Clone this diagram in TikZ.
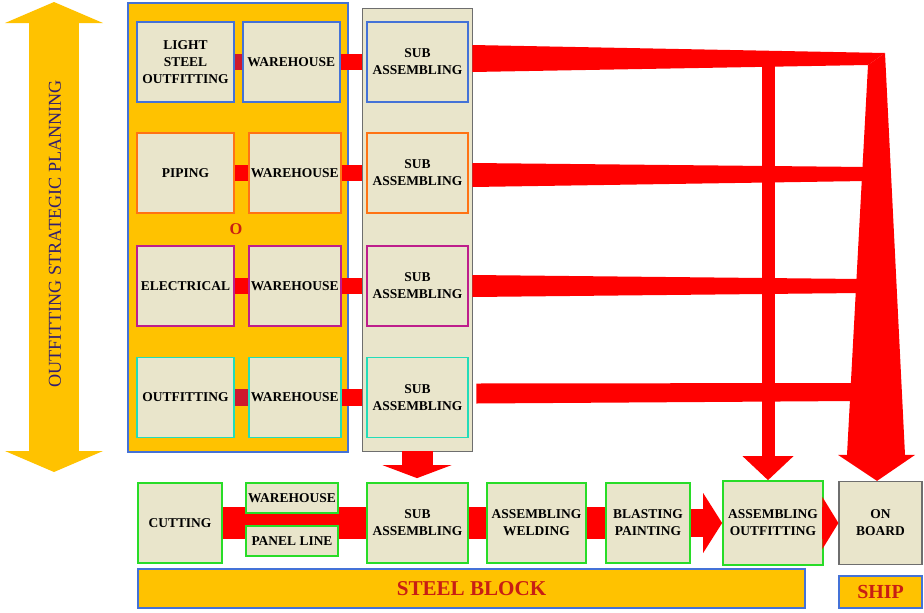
\documentclass[tikz,border=0pt]{standalone}
\usepackage{fontspec}
\setmainfont{Liberation Serif}
\usetikzlibrary{positioning,calc,arrows.meta}
\definecolor{planyellow}{RGB}{255,194,0}
\definecolor{plantext}{RGB}{50,30,110}
\definecolor{stagefill}{RGB}{233,229,203}
\definecolor{blueline}{RGB}{68,114,215}
\definecolor{orangeline}{RGB}{255,115,20}
\definecolor{magline}{RGB}{190,30,140}
\definecolor{cyanline}{RGB}{35,220,185}
\definecolor{greenline}{RGB}{40,220,40}
\definecolor{greyline}{RGB}{110,110,110}
\definecolor{flowred}{RGB}{255,0,0}
\definecolor{darkflow}{RGB}{205,25,45}
\definecolor{labelred}{RGB}{200,30,20}

\begin{document}
\begin{tikzpicture}[
    x=0.03cm, y=-0.03cm,
    stage/.style={rectangle, draw=#1, line width=1.5pt, fill=stagefill, minimum width=2.91cm, minimum height=2.4cm, inner sep=1pt, align=center, font=\fontsize{11.5}{14.5}\selectfont\bfseries},
    stage/.default=greenline,
    group/.style={rectangle, draw=blueline, fill=planyellow, line width=1pt},
    link/.style={draw=flowred, line width=0.5cm},
    band/.style={draw=flowred, line width=0.97cm},
    flow/.style={fill=flowred},
    plan/.style={draw=planyellow, line width=1.5cm, {Triangle[width=2.94cm, length=0.63cm, line width=0pt]}-{Triangle[width=2.94cm, length=0.63cm, line width=0pt]}}
]
\useasboundingbox (0,0) rectangle (924,612);

% planning arrow
\coordinate (ptop) at (54,2);
\coordinate (pbot) at (54,472);
\draw[plan] (ptop) -- (pbot);
\node[rotate=90, text=plantext, font=\fontsize{15.5}{18}\selectfont] (plan) at (55,234) {OUTFITTING STRATEGIC PLANNING};

% outfitting group and sub assembling column
\node[group, minimum width=6.6cm, minimum height=13.47cm] (ogrp) at (238,227.5) {};
\node[rectangle, draw=greyline, fill=stagefill, line width=0.6pt, minimum width=3.3cm, minimum height=13.29cm] (col) at (417,229.5) {};

\node[stage=blueline] (ls) at (185.5,62) {LIGHT\\STEEL\\OUTFITTING};
\node[stage=blueline, right=0.21cm of ls] (wh1) {WAREHOUSE};
\node[stage=blueline, minimum width=3.03cm] (sa1) at (417.5,62) {SUB\\ASSEMBLING};

\node[stage=orangeline] (pip) at (185.5,173) {PIPING};
\node[stage=orangeline, minimum width=2.76cm, right=0.39cm of pip] (wh2) {WAREHOUSE};
\node[stage=orangeline, minimum width=3.03cm] (sa2) at (417.5,173) {SUB\\ASSEMBLING};

\node[stage=magline] (ele) at (185.5,286) {ELECTRICAL};
\node[stage=magline, minimum width=2.76cm, right=0.39cm of ele] (wh3) {WAREHOUSE};
\node[stage=magline, minimum width=3.03cm] (sa3) at (417.5,286) {SUB\\ASSEMBLING};

\node[stage=cyanline] (out) at (185.5,397.5) {OUTFITTING};
\node[stage=cyanline, minimum width=2.76cm, right=0.39cm of out] (wh4) {WAREHOUSE};
\node[stage=cyanline, minimum width=3.03cm] (sa4) at (417.5,397.5) {SUB\\ASSEMBLING};

\node[text=labelred, font=\fontsize{14}{14}\selectfont\bfseries] (olabel) at (236,229) {O};

\draw[link, draw=darkflow] (ls) -- (wh1);
\draw[link] (pip) -- (wh2);
\draw[link] (ele) -- (wh3);
\draw[link, draw=darkflow] (out) -- (wh4);
\draw[link] (wh1) -- (wh1 -| col.west);
\draw[link] (wh2) -- (wh2 -| col.west);
\draw[link] (wh3) -- (wh3 -| col.west);
\draw[link] (wh4) -- (wh4 -| col.west);

% bottom row
\node[stage, minimum width=2.52cm] (cut) at (180,523) {CUTTING};
\node[stage, minimum width=3.03cm] (bsub) at (417.5,523) {SUB\\ASSEMBLING};
\draw[band] (cut) -- (bsub);
\node[stage, minimum width=2.76cm, minimum height=0.9cm] (bwh) at (292,498) {WAREHOUSE};
\node[stage, minimum width=2.76cm, minimum height=0.9cm] (pl) at (292,541) {PANEL LINE};
\node[stage, minimum width=2.97cm] (aw) at (536.5,523) {ASSEMBLING\\WELDING};
\node[stage, minimum width=2.52cm] (bp) at (648,523) {BLASTING\\PAINTING};
\node[stage, minimum width=3cm, minimum height=2.52cm] (ao) at (773,523) {ASSEMBLING\\OUTFITTING};
\node[stage=greyline, line width=1pt, minimum width=2.49cm, minimum height=2.49cm] (ob) at (880.5,523) {ON\\BOARD};

\draw[band] (bsub) -- (aw);
\draw[band] (aw) -- (bp);
\draw[band, line width=0.84cm, -{Triangle[width=1.8cm, length=0.57cm, line width=0pt]}] (bp) -- (ao);
\draw[band, -{Triangle[width=1.56cm, length=0.48cm, line width=0pt]}] (ao) -- (ob);

\node[group, line width=1.2pt, minimum width=20.01cm, minimum height=1.17cm, text=labelred, font=\fontsize{18}{18}\selectfont\bfseries] (sb) at (471.5,588.5) {STEEL BLOCK};
\node[group, line width=1.2pt, minimum width=2.49cm, minimum height=0.96cm, text=labelred, font=\fontsize{17}{17}\selectfont\bfseries] (ship) at (880.5,592) {SHIP};

% flows to the block stage and on board
\draw[flowred, line width=0.93cm, shorten >=0.12cm, -{Triangle[width=2.07cm, length=0.39cm, line width=0pt]}] (col.south) -- (col.south |- bsub.north);

\coordinate (vbig) at (877,53);
\coordinate (e2) at (866,174);
\coordinate (e3) at (860,286);
\coordinate (e4) at (855,392);
\fill[flow] ($(sa1.east -| col.east)+(0,-17)$) -- ($(vbig)+(8,0)$) -- ($(vbig)+(-9,12)$) -- ($(sa1.east -| col.east)+(0,10)$) -- cycle;
\fill[flow] ($(sa2.east -| col.east)+(0,-10)$) -- ($(e2)+(0,-7)$) -- ($(e2)+(0,7)$) -- ($(sa2.east -| col.east)+(0,14)$) -- cycle;
\fill[flow] ($(sa3.east -| col.east)+(0,-11)$) -- ($(e3)+(0,-7)$) -- ($(e3)+(0,7)$) -- ($(sa3.east -| col.east)+(0,11)$) -- cycle;
\fill[flow] ($(sa4.east -| col.east)+(4,-14)$) -- ($(e4)+(0,-9)$) -- ($(e4)+(0,9)$) -- ($(sa4.east -| col.east)+(4,6)$) -- cycle;
\fill[flow] ($(vbig)+(-9,12)$) -- ($(vbig)+(8,0)$) -- ($(vbig |- ob.north)+(28,-26)$) -- ($(vbig |- ob.north)+(38,-26)$) -- (vbig |- ob.north) -- ($(vbig |- ob.north)+(-39,-26)$) -- ($(vbig |- ob.north)+(-30,-26)$) -- cycle;

\coordinate (vthin) at (768,66);
\draw[flowred, line width=0.39cm, -{Triangle[width=1.53cm, length=0.72cm, line width=0pt]}] (vthin) -- (vthin |- ao.north);

\end{tikzpicture}
\end{document}
